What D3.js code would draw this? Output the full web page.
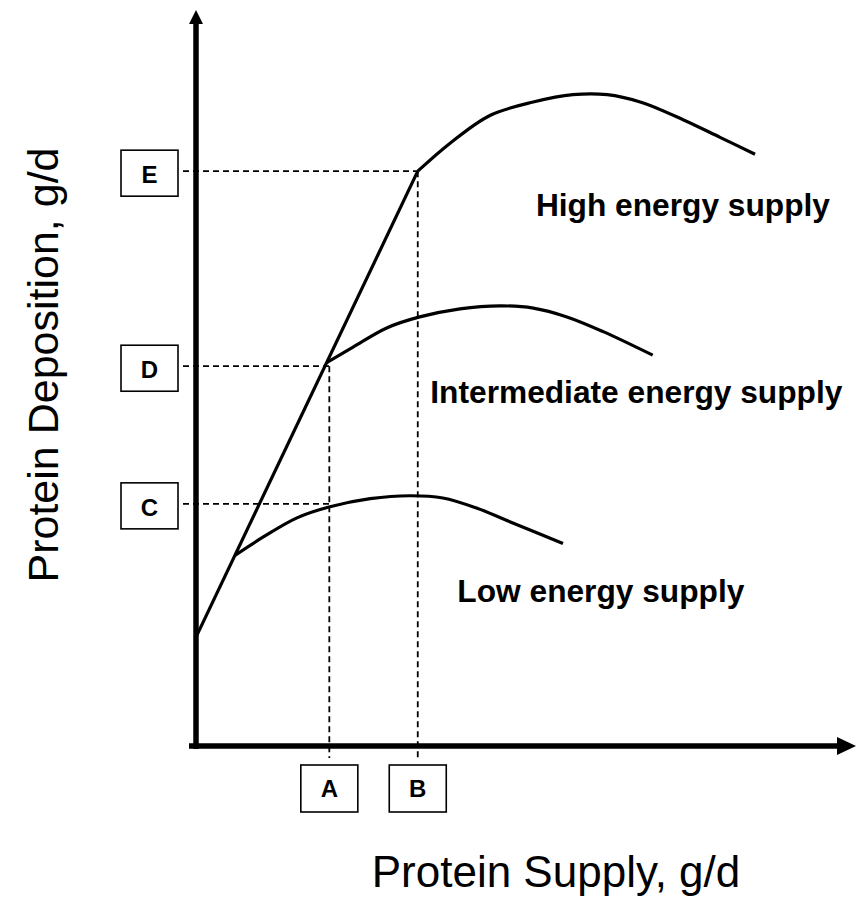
<!DOCTYPE html>
<html>
<head>
<meta charset="utf-8">
<script src="https://cdn.jsdelivr.net/npm/d3@7"></script>
<style>
  html, body { margin: 0; padding: 0; background: #fff; }
  svg { display: block; }
</style>
</head>
<body>
<div id="chart"></div>
<script>
// protein supply / deposition (arbitrary units 0-100)
const diagonal = [[0, 14.8], [33.6, 78.1]];
const lowEnergy = [[5.9, 25.9], [10.2, 28.4], [15.3, 31.0], [20.3, 32.5], [26.4, 33.6], [32.4, 34.0], [37.4, 33.7], [42.6, 32.3], [48.0, 30.3], [55.6, 27.5]];
const midEnergy = [[19.8, 52.1], [23.8, 54.2], [28.9, 56.8], [33.9, 58.3], [40.0, 59.4], [46.1, 59.8], [51.1, 59.5], [56.2, 58.3], [61.7, 56.3], [69.2, 53.1]];
const highEnergy = [[33.6, 78.1], [38.5, 81.9], [44.6, 85.7], [51.1, 87.5], [57.1, 88.5], [62.3, 88.5], [67.3, 87.5], [73.8, 85.1], [79.4, 82.7], [84.7, 80.4]];

const xMarks = [{label: 'A', x: 20.2, from: 51.6}, {label: 'B', x: 33.6, from: 78.1}];
const yMarks = [{label: 'C', y: 32.9, to: 20.2}, {label: 'D', y: 51.6, to: 20.2}, {label: 'E', y: 78.1, to: 33.6}];

const curveLabels = [
  {text: 'High energy supply', x: 51.5, y: 72.0},
  {text: 'Intermediate energy supply', x: 35.5, y: 46.6},
  {text: 'Low energy supply', x: 39.6, y: 19.5}
];

const width = 857, height = 899;

const x = d3.scaleLinear().domain([0, 100]).range([196, 856]);
const y = d3.scaleLinear().domain([0, 100]).range([746, 10]);

const svg = d3.select('#chart').append('svg')
  .attr('width', width).attr('height', height);

// dashed guide lines
const guides = svg.append('g')
  .attr('stroke', '#000')
  .attr('stroke-width', 1.8)
  .attr('stroke-dasharray', '6,4')
  .attr('fill', 'none');

yMarks.forEach(d => {
  guides.append('line')
    .attr('x1', 183).attr('x2', x(d.to))
    .attr('y1', y(d.y)).attr('y2', y(d.y));
});
xMarks.forEach(d => {
  guides.append('line')
    .attr('x1', x(d.x)).attr('x2', x(d.x))
    .attr('y1', y(d.from)).attr('y2', y(0) + 12);
});

// axes with arrows
const axes = svg.append('g');
axes.append('line')
  .attr('x1', x(0)).attr('x2', x(0))
  .attr('y1', y(0) + 3).attr('y2', y(100) + 12)
  .attr('stroke', '#000').attr('stroke-width', 5.5);
axes.append('line')
  .attr('x1', x(0) - 7).attr('x2', x(100) - 16)
  .attr('y1', y(0)).attr('y2', y(0))
  .attr('stroke', '#000').attr('stroke-width', 5.5);
axes.append('path')
  .attr('d', `M${x(0)},${y(100)} L${x(0) + 7},${y(100) + 14} L${x(0) - 7},${y(100) + 14} Z`)
  .attr('fill', '#000');
axes.append('path')
  .attr('d', `M${x(100)},${y(0)} L${x(100) - 19},${y(0) - 9} L${x(100) - 19},${y(0) + 9} Z`)
  .attr('fill', '#000');

// response lines
const straight = d3.line().x(d => x(d[0])).y(d => y(d[1]));
const smooth = d3.line().x(d => x(d[0])).y(d => y(d[1])).curve(d3.curveCatmullRom.alpha(0.5));

svg.append('path').attr('d', straight(diagonal))
  .attr('fill', 'none').attr('stroke', '#000').attr('stroke-width', 3.2);

[lowEnergy, midEnergy, highEnergy].forEach(s => {
  svg.append('path').attr('d', smooth(s))
    .attr('fill', 'none').attr('stroke', '#000').attr('stroke-width', 3.2)
    .attr('stroke-linejoin', 'round');
});

// letter boxes
const boxFont = 'Liberation Sans, Arial, sans-serif';

const yBox = svg.append('g').selectAll('g').data(yMarks).enter().append('g');
yBox.append('rect')
  .attr('x', 121).attr('y', d => y(d.y) - 21)
  .attr('width', 57).attr('height', 46)
  .attr('fill', '#fff').attr('stroke', '#000').attr('stroke-width', 1.6);
yBox.append('text')
  .attr('x', 149.5).attr('y', d => y(d.y) + 12)
  .attr('text-anchor', 'middle')
  .attr('font-family', boxFont).attr('font-weight', 'bold').attr('font-size', 24)
  .text(d => d.label);

const xBox = svg.append('g').selectAll('g').data(xMarks).enter().append('g');
xBox.append('rect')
  .attr('x', d => x(d.x) - 28.5).attr('y', 765)
  .attr('width', 57).attr('height', 47)
  .attr('fill', '#fff').attr('stroke', '#000').attr('stroke-width', 1.6);
xBox.append('text')
  .attr('x', d => x(d.x)).attr('y', 797)
  .attr('text-anchor', 'middle')
  .attr('font-family', boxFont).attr('font-weight', 'bold').attr('font-size', 24)
  .text(d => d.label);

// curve labels
svg.append('g').selectAll('text').data(curveLabels).enter().append('text')
  .attr('x', d => x(d.x)).attr('y', d => y(d.y))
  .attr('font-family', boxFont).attr('font-weight', 'bold').attr('font-size', 31.7)
  .text(d => d.text);

// axis titles
svg.append('text')
  .attr('x', 556).attr('y', 887)
  .attr('text-anchor', 'middle')
  .attr('font-family', boxFont).attr('font-size', 44)
  .text('Protein Supply, g/d');

svg.append('text')
  .attr('transform', 'translate(58,365) rotate(-90)')
  .attr('text-anchor', 'middle')
  .attr('font-family', boxFont).attr('font-size', 43)
  .text('Protein Deposition, g/d');
</script>
</body>
</html>
